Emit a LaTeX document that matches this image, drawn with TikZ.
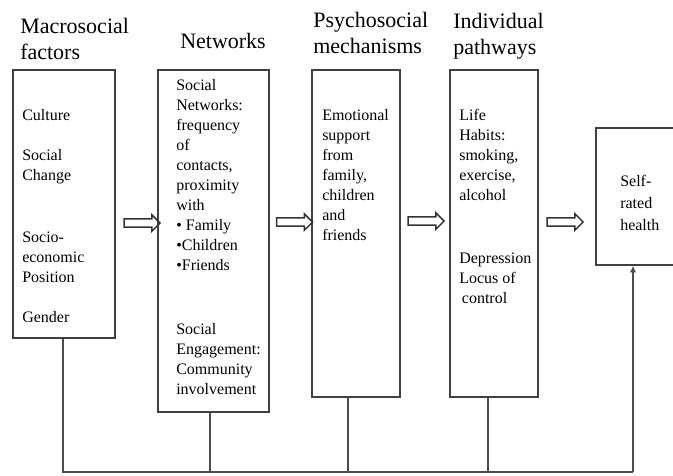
\documentclass[tikz,border=0pt]{standalone}
\usepackage{fontspec}
\setmainfont{Liberation Serif}
\usetikzlibrary{shapes.arrows,arrows.meta}

\tikzset{
  box/.style={draw=black!75, line width=1.2pt, inner sep=0pt},
  boxtext/.style={anchor=north west, align=left, inner sep=0pt, font=\fontsize{12}{15}\selectfont, execute at begin node=\strut},
  heading/.style={anchor=north west, align=left, inner sep=0pt, font=\fontsize{16.5}{19.5}\selectfont, execute at begin node=\strut},
  blockarrow/.style={single arrow, draw=black!80, line width=1.1pt, inner xsep=0pt, inner ysep=2.5pt,
    minimum height=27pt, single arrow head extend=3pt},
  link/.style={draw=black!70, line width=1pt}
}

\begin{document}
\begin{tikzpicture}[x=0.75pt,y=-0.75pt]
\useasboundingbox (0,0) rectangle (673,475);
% Ueberschriften
\node[heading] (hmacro) at (20,17.5) {Macrosocial\\factors};
\node[heading] (hnet) at (180,30.5) {Networks};
\node[heading] (hpsy) at (313,11.5) {Psychosocial\\mechanisms};
\node[heading] (hind) at (453,12.5) {Individual\\pathways};
% Kaesten
\node[box, minimum width=76.5pt, minimum height=201pt] (macro) at (64,204) {};
\node[box, minimum width=83.25pt, minimum height=256.5pt] (net) at (213.5,241) {};
\node[box, minimum width=66pt, minimum height=245.25pt] (psy) at (356,233.5) {};
\node[box, minimum width=66pt, minimum height=245.25pt] (ind) at (494,233.5) {};
\node[box, minimum width=63pt, minimum height=102.75pt] (self) at (638,196.5) {};
% Texte
\node[boxtext] (macrotxt) at (22,109) {Culture\\[15pt]Social\\Change\\[31.5pt]Socio-\\economic\\Position\\[15pt]Gender};
\node[boxtext] (nettxt) at (176,79) {Social\\Networks:\\frequency\\of\\contacts,\\proximity\\with\\• Family\\•Children\\•Friends\\[33pt]Social\\Engagement:\\Community\\involvement};
\node[boxtext] (psytxt) at (322,109) {Emotional\\support\\from\\family,\\children\\and\\friends};
\node[boxtext] (indtxt) at (459,109) {Life\\Habits:\\smoking,\\exercise,\\alcohol\\[32pt]Depression\\Locus of\\\hspace{2pt}control};
\node[boxtext] (selftxt) at (620,175) {Self-\\[1.5pt]rated\\[1.5pt]health};
% Pfeile
\node[blockarrow] (a1) at (140,223) {};
\node[blockarrow] (a2) at (292.5,222) {};
\node[blockarrow] (a3) at (424,221) {};
\node[blockarrow] (a4) at (563,222) {};
% Rueckfuehrung
\coordinate (base) at (0,472);
\draw[link] ([xshift=-0.75pt]macro.south) |- ([xshift=-3.75pt]self.south |- base);
\draw[link] ([xshift=-2.6pt]net.south) -- ([xshift=-2.6pt]net.south |- base);
\draw[link] ([xshift=-6pt]psy.south) -- ([xshift=-6pt]psy.south |- base);
\draw[link] ([xshift=-4.5pt]ind.south) -- ([xshift=-4.5pt]ind.south |- base);
\draw[link, -{Latex[length=5pt,width=5pt]}] ([xshift=-3.75pt]self.south |- base) -- ([xshift=-3.75pt]self.south);
\end{tikzpicture}
\end{document}
